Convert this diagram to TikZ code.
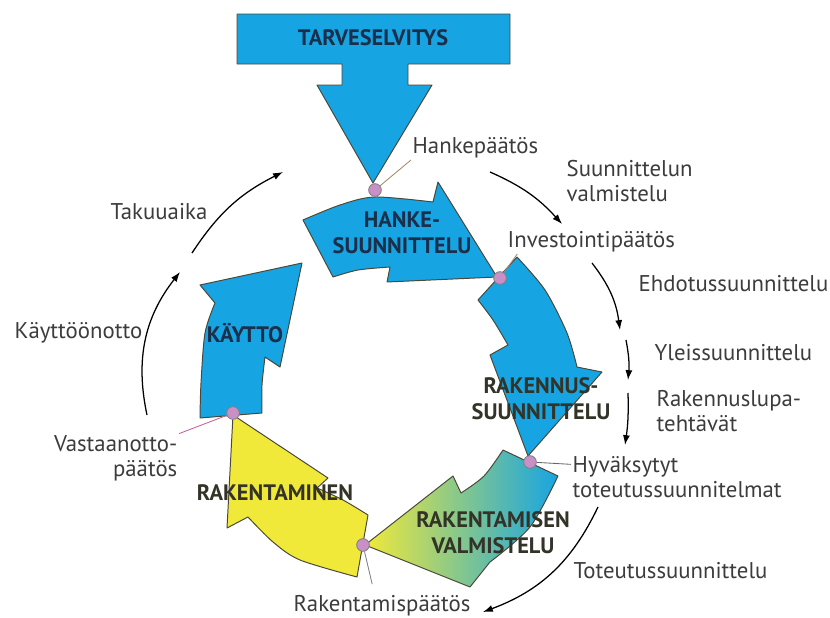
\documentclass[tikz,border=0pt]{standalone}
\usepackage{fontspec}
\setmainfont{PT Sans}
\usetikzlibrary{positioning, arrows.meta, calc}
\definecolor{cycblue}{HTML}{17A4E2}
\definecolor{cycyellow}{HTML}{F1E93A}
\definecolor{cycedge}{HTML}{4A4838}
\definecolor{cycdot}{HTML}{C890C6}
\definecolor{cyctext}{HTML}{3C3C3C}
\definecolor{cycnavy}{HTML}{1B2E4A}
\definecolor{cycdark}{HTML}{333328}
\definecolor{cycleader}{HTML}{A88A6A}

\begin{document}
\begin{tikzpicture}[x=0.025cm, y=-0.025cm, font=\fontsize{16.2}{17.7}\selectfont,
    cycshape/.style={draw=cycedge, line width=0.7pt, line join=round},
    dot/.style={circle, draw=gray, fill=cycdot, minimum size=9pt, inner sep=0pt, line width=0.6pt},
    lbl/.style={text=cyctext, inner sep=1pt, align=left},
    phase/.style={font=\fontsize{15.9}{18.5}\selectfont\bfseries, text=cycnavy, align=center, inner sep=0pt},
    leader/.style={cycleader, line width=0.6pt},
    flow/.style={black, line width=0.9pt, -{Latex[length=7pt, width=5pt]}}]
  \useasboundingbox (0,0) rectangle (830,618);
  \draw[cycshape, fill=cycblue] (237,14) -- (510,14) -- (510,64) -- (408,64) -- (408,85) -- (432,85)
    -- (373,183) -- (317,85) -- (342,85) -- (342,64) -- (237,64) -- cycle;
  \draw[cycshape, fill=cycblue] plot[smooth] coordinates {(303,220) (340,205) (375,197) (433,202)}
    -- (438,182) -- (497,277) -- (387,282) -- (390,267)
    -- plot[smooth] coordinates {(390,267) (358,270) (333,277)} -- cycle;
  \draw[cycshape, fill=cycblue] (478,300) -- (517,257)
    -- plot[smooth] coordinates {(517,257) (545,290) (567,333) (577,367)}
    -- (602,372) -- (528,456) -- (490,355) -- (508,345)
    -- plot[smooth] coordinates {(508,345) (493,320) (478,300)} -- cycle;
  \shadedraw[cycshape, left color=cycyellow, right color=cycblue] (503,450) -- (558,476)
    -- plot[smooth] coordinates {(558,476) (530,527) (490,562)}
    -- (470,587) -- (365,545) -- (453,476) -- (461,493)
    -- plot[smooth] coordinates {(461,493) (484,476) (503,450)} -- cycle;
  \draw[cycshape, fill=cycyellow] (368,515) -- (357,577)
    -- plot[smooth] coordinates {(357,577) (300,560) (273,542) (248,517)}
    -- (227,528) -- (233,415) -- (328,478) -- (317,488)
    -- plot[smooth] coordinates {(317,488) (343,500) (368,515)} -- cycle;
  \draw[cycshape, fill=cycblue] (262,413) -- (200,418)
    -- plot[smooth] coordinates {(200,418) (201,383) (205,333) (215,303)}
    -- (200,285) -- (302,263) -- (280,367) -- (265,357)
    -- plot[smooth] coordinates {(265,357) (262,385) (262,413)} -- cycle;

  \node[dot] (dHanke) at (375,190) {};
  \node[dot] (dInvest) at (500,278) {};
  \node[dot] (dHyv) at (530,462) {};
  \node[dot] (dRakp) at (363,545) {};
  \node[dot] (dVast) at (233,413) {};

  \node[phase] (pTarve) at (373,38) {TARVESELVITYS};
  \node[phase] (pHanke) at (402,233) {HANKE-\\SUUNNITTELU};
  \node[phase, text=cycdark] (pRak) at (541,399) {RAKENNUS-\\SUUNNITTELU};
  \node[phase] (pKayt) at (245,333) {KÄYTTO};
  \node[phase, text=cycdark] (pRaken) at (275,493) {RAKENTAMINEN};
  \node[phase, text=cycdark] (pValm) at (493,533) {RAKENTAMISEN\\VALMISTELU};

  \node[lbl, anchor=west] (lHanke) at (411,148) {Hankepäätös};
  \node[lbl, anchor=west] (lInvest) at (506,242) {Investointipäätös};
  \node[lbl, anchor=west] (lHyv) at (571,477) {Hyväksytyt\\toteutussuunnitelmat};
  \node[lbl] (lRakp) at (382,606) {Rakentamispäätös};
  \node[lbl, anchor=east, align=right] (lVast) at (179,458) {Vastaanotto-\\päätös};
  \node[lbl, anchor=west] (lSuun) at (565,181) {Suunnittelun\\valmistelu};
  \node[lbl, anchor=west] (lEhd) at (637,284) {Ehdotussuunnittelu};
  \node[lbl, anchor=west] (lYleis) at (653,353) {Yleissuunnittelu};
  \node[lbl, anchor=west] (lLupa) at (655,411) {Rakennuslupa-\\tehtävät};
  \node[lbl, anchor=west] (lTot) at (572,571) {Toteutussuunnittelu};
  \node[lbl, anchor=west] (lTak) at (109,212) {Takuuaika};
  \node[lbl, anchor=west] (lKayt) at (13,333) {Käyttöönotto};

  \draw[leader] (dHanke) -- (lHanke.south west);
  \draw[leader] (dInvest) -- ([xshift=8pt]lInvest.south west);
  \draw[leader, gray!80!black] (dHyv) -- ([yshift=9pt]lHyv.west);
  \draw[leader, gray] (dRakp) -- ([xshift=-7pt, yshift=7pt]lRakp.north);
  \draw[leader, cycleader!70!magenta] (dVast) -- (lVast.north east);

  \draw[flow] (192,253) to[bend left=15] (283,172);
  \draw[flow] (147,415) to[bend left=25] (180,272);
  \draw[flow] (490,172) to[bend left=12] (562,224);
  \draw[flow] (592,263) to[bend left=15] (620,330);
  \draw[flow] (626,340) to[bend left=8] (628,380);
  \draw[flow] (628,393) to[bend left=5] (625,445);
  \draw[flow] (598,507) to[bend left=22] (483,612);
\end{tikzpicture}
\end{document}
